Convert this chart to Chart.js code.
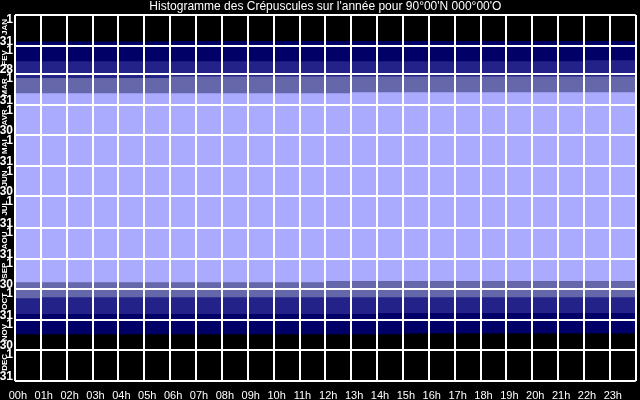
<!DOCTYPE html>
<html>
<head>
<meta charset="utf-8">
<script src="https://cdn.jsdelivr.net/npm/chart.js@4"></script>
<style>
html, body { margin: 0; padding: 0; background: #000; }
canvas { display: block; }
</style>
</head>
<body>
<canvas id="twilightChart" width="640" height="400"></canvas>
<script>
// Hours of the day (x categories)
const hours = ['00h', '01h', '02h', '03h', '04h', '05h', '06h', '07h', '08h', '09h', '10h', '11h',
               '12h', '13h', '14h', '15h', '16h', '17h', '18h', '19h', '20h', '21h', '22h', '23h'];

// Month ticks on the y axis (day of year)
const monthNames = ['JAN', 'FEV', 'MAR', 'AVR', 'MAI', 'JUN', 'JUL', 'AOU', 'SEP', 'OCT', 'NOV', 'DEC'];
const monthStarts = [0, 31, 59, 90, 120, 151, 181, 212, 243, 273, 304, 334, 365];
const monthLastDay = [31, 28, 31, 30, 31, 30, 31, 31, 30, 31, 30, 31];

const titleText = "Histogramme des Crépuscules sur l'année pour 90°00'N 000°00'O";

// Band limits, in day of year, for every hour
// spring: night -> astronomical -> nautical -> civil -> day
const nightEnd   = [26.2, 26.2, 26.2, 26.2, 26.2, 26.2, 25.6, 25.6, 25.6, 25.6, 25.6, 25.6,
                    25.6, 25.6, 25.6, 25.6, 25.6, 25.6, 25.6, 25.6, 25.6, 25.6, 25.6, 25.6];
const astroEnd   = [45.9, 45.9, 45.9, 45.9, 45.9, 45.9, 45.9, 45.9, 45.9, 45.9, 45.9, 45.9,
                    45.9, 45.9, 45.9, 45.9, 45.9, 45.9, 45.9, 45.9, 45.9, 45.9, 44.9, 44.9];
const nautEnd    = [62.5, 62.5, 62.5, 62.5, 62.5, 62.5, 61.1, 61.1, 61.1, 61.1, 61.1, 61.1,
                    61.1, 61.1, 61.1, 61.1, 61.1, 61.1, 61.1, 61.1, 61.1, 61.1, 61.1, 61.1];
const dayStart   = [77.8, 77.8, 77.8, 77.8, 77.8, 77.8, 77.8, 77.8, 77.8, 77.8, 77.8, 77.8,
                    77.8, 76.8, 76.8, 76.8, 76.8, 76.8, 76.8, 76.8, 76.8, 76.8, 76.8, 76.8];
// autumn: day -> civil -> nautical -> astronomical -> night
const dayEnd     = [266.3, 266.3, 266.3, 266.3, 266.3, 266.3, 266.3, 266.3, 266.3, 266.3, 266.3, 266.3,
                    265.0, 265.0, 265.0, 265.0, 265.0, 265.0, 265.0, 265.0, 265.0, 265.0, 265.0, 265.0];
const civilEnd   = [282.2, 281.2, 281.2, 281.2, 281.2, 281.2, 281.2, 281.2, 281.2, 281.2, 281.2, 281.2,
                    281.2, 281.2, 281.2, 281.2, 281.2, 281.2, 281.2, 281.2, 281.2, 281.2, 281.2, 281.2];
const nautEnd2   = [297.9, 297.9, 297.9, 297.9, 297.9, 297.9, 297.9, 297.9, 297.9, 297.9, 297.9, 297.9,
                    297.9, 297.9, 296.9, 296.9, 296.9, 296.9, 296.9, 296.9, 296.9, 296.9, 296.9, 296.9];
const astroEnd2  = [318.1, 318.1, 318.1, 318.1, 318.1, 318.1, 318.1, 318.1, 318.1, 318.1, 318.1, 318.1,
                    318.1, 318.1, 318.1, 317.4, 317.4, 317.4, 317.4, 317.4, 317.4, 317.4, 317.4, 317.4];

const yearStart = 0;
const yearEnd = 365;

// pair two limit arrays into floating bars
function ranges(from, to) {
    return from.map((v, i) => [v, to[i]]);
}

function band(label, from, to, color) {
    return { label: label, data: ranges(from, to), backgroundColor: color };
}

// Draws the day/month labels on the left and the title
const yLabels = {
    id: 'yLabels',
    afterDraw(chart) {
        const ctx = chart.ctx;
        const y = chart.scales.y;
        const area = chart.chartArea;
        ctx.save();
        ctx.fillStyle = '#fff';
        for (let m = 0; m < 12; m++) {
            const top = y.getPixelForValue(monthStarts[m]);
            const bottom = y.getPixelForValue(monthStarts[m + 1]);
            ctx.font = 'bold 12px "Liberation Sans Narrow", "Liberation Sans"';
            ctx.textAlign = 'right';
            ctx.textBaseline = 'top';
            ctx.fillText('1', 13, top - 1);
            ctx.textBaseline = 'alphabetic';
            ctx.fillText(String(monthLastDay[m]), 13, bottom - 1);

            // month name, rotated to read upwards
            ctx.save();
            ctx.translate(7, top + 4);
            ctx.rotate(-Math.PI / 2);
            ctx.font = 'bold 8px "Liberation Sans"';
            ctx.textAlign = 'right';
            ctx.fillText(monthNames[m], 0, 0);
            ctx.restore();
        }
        ctx.font = '12px "Liberation Sans"';
        ctx.textAlign = 'center';
        ctx.textBaseline = 'alphabetic';
        ctx.fillText(titleText, (area.left + area.right) / 2, 10);
        ctx.restore();
    }
};

const ctx = document.getElementById('twilightChart').getContext('2d');

new Chart(ctx, {
    type: 'bar',
    data: {
        labels: hours,
        datasets: [
            band('Nuit', new Array(24).fill(yearStart), nightEnd, '#000000'),
            band('Astronomique', nightEnd, astroEnd, '#000066'),
            band('Nautique', astroEnd, nautEnd, '#222288'),
            band('Civil', nautEnd, dayStart, '#6666AA'),
            band('Jour', dayStart, dayEnd, '#AAAAFF'),
            band('Civil', dayEnd, civilEnd, '#6666AA'),
            band('Nautique', civilEnd, nautEnd2, '#222288'),
            band('Astronomique', nautEnd2, astroEnd2, '#000066'),
            band('Nuit', astroEnd2, new Array(24).fill(yearEnd), '#000000')
        ]
    },
    options: {
        responsive: false,
        animation: false,
        layout: { padding: { left: 15, top: 15, right: 1, bottom: 0 } },
        datasets: {
            bar: { barPercentage: 1, categoryPercentage: 1, borderWidth: 0, grouped: false }
        },
        plugins: {
            legend: { display: false },
            tooltip: { enabled: false },
            title: { display: false }
        },
        scales: {
            x: {
                grid: { color: '#fff', lineWidth: 2, drawTicks: false, offset: true, z: 1 },
                border: { display: false },
                ticks: {
                    color: '#fff',
                    font: { family: 'Liberation Sans', size: 11 },
                    padding: 8,
                    labelOffset: -10,
                    maxRotation: 0,
                    autoSkip: false
                },
                afterFit: s => { s.height = 19; }
            },
            y: {
                min: yearStart,
                max: yearEnd,
                reverse: true,
                grid: { color: '#fff', lineWidth: 2, drawTicks: false, z: 1 },
                border: { display: false },
                ticks: { display: false },
                afterBuildTicks: s => { s.ticks = monthStarts.map(v => ({ value: v })); },
                afterFit: s => { s.width = 0; }
            }
        }
    },
    plugins: [yLabels]
});
</script>
</body>
</html>
